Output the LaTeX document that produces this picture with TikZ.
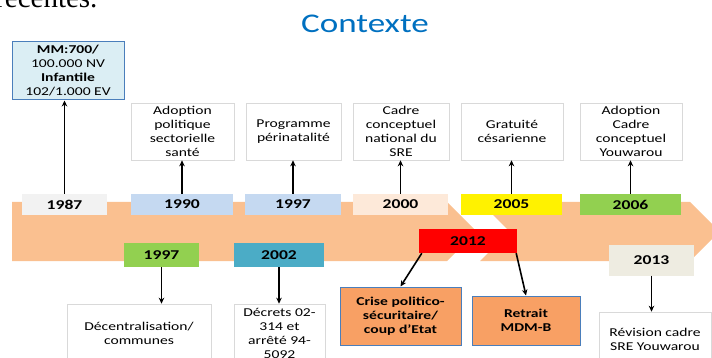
\documentclass[tikz,border=0pt]{standalone}
\usepackage{fontspec}
\setmainfont{Carlito}[FakeStretch=1.3]
\newfontfamily\pageserif{Liberation Serif}
\usepackage{xcolor}
\usepackage{tikz}
\usetikzlibrary{arrows.meta,calc}

\definecolor{bandorange}{RGB}{250,192,144}
\definecolor{titleblue}{RGB}{0,112,192}
\definecolor{boxline}{RGB}{217,217,217}
\definecolor{mmfill}{RGB}{219,238,244}
\definecolor{darkline}{RGB}{74,126,187}
\definecolor{criseorange}{RGB}{248,160,100}
\definecolor{lightgrey}{RGB}{242,242,242}
\definecolor{lightblue}{RGB}{197,217,241}
\definecolor{peach}{RGB}{253,233,217}
\definecolor{limegreen}{RGB}{146,208,80}
\definecolor{tealblue}{RGB}{75,172,198}
\definecolor{paper}{RGB}{238,236,225}

\begin{document}
\begin{tikzpicture}[x=1pt, y=-1pt, >={Stealth[length=6pt,width=5.5pt]},
    event/.style={draw=boxline, fill=white, line width=0.6pt, align=center,
        font=\fontsize{12}{14}\selectfont, inner sep=1pt},
    marked/.style={event, draw=darkline, line width=1pt},
    year/.style={font=\fontsize{13.5}{15}\selectfont\bfseries, inner sep=0pt},
    link/.style={->, line width=1.6pt}]

\useasboundingbox (0,0) rectangle (712,358);
\clip (0,0) rectangle (712,358);

% Page text and title
\node[anchor=base east, font=\pageserif\fontsize{29}{30}\selectfont] (page) at (101,8) {récentes.};
\node[anchor=base, text=titleblue, font=\fontsize{27}{30}\selectfont] (title) at (365,33) {Contexte};

% Timeline band
\fill[bandorange] (12,202) -- (447,202) -- (476.5,231.5) -- (447,261) -- (12,261) -- cycle;
\fill[bandorange] (480,202) -- (690,202) -- (719.5,231.5) -- (690,261) -- (480,261) -- (509.5,231.5) -- cycle;

% Events above the band
\node[marked, fill=mmfill, minimum width=112pt, minimum height=58pt] (mm) at (68,71)
    {\textbf{MM:700/}\\100.000 NV\\\textbf{Infantile}\\102/1.000 EV};
\node[event, minimum width=103pt, minimum height=57pt] (ev1990) at (182.5,131.5) {Adoption\\politique\\sectorielle\\santé};
\node[event, minimum width=95pt, minimum height=57pt] (ev1997) at (293.5,131.5) {Programme\\périnatalité};
\node[event, minimum width=96pt, minimum height=57pt] (ev2000) at (401,131.5) {Cadre\\conceptuel\\national du\\SRE};
\node[event, minimum width=102pt, minimum height=57pt] (ev2005) at (512,131.5) {Gratuité\\césarienne};
\node[event, minimum width=102pt, minimum height=57pt] (ev2006) at (631,131.5) {Adoption\\Cadre\\conceptuel\\Youwarou};

% Years on the band
\node[year, fill=lightgrey, minimum width=85pt, minimum height=21pt] (y1987) at (64.5,204.5) {1987};
\node[year, fill=lightblue, minimum width=102pt, minimum height=21pt] (y1990) at (182,204.5) {1990};
\node[year, fill=lightblue, minimum width=96pt, minimum height=21pt] (y1997a) at (293,204.5) {1997};
\node[year, fill=peach, minimum width=95pt, minimum height=21pt] (y2000) at (400.5,204.5) {2000};
\node[year, fill=yellow, minimum width=101pt, minimum height=21pt] (y2005) at (511.5,204.5) {2005};
\node[year, fill=limegreen, minimum width=101pt, minimum height=21pt] (y2006) at (630.5,204.5) {2006};

\node[year, fill=limegreen, minimum width=75pt, minimum height=24pt] (y1997b) at (161.5,255) {1997};
\node[year, fill=tealblue, minimum width=90pt, minimum height=24pt] (y2002) at (279,255) {2002};
\node[year, fill=red, minimum width=98pt, minimum height=24pt] (y2012) at (468,241) {2012};
\node[year, fill=paper, minimum width=85pt, minimum height=31pt] (y2013) at (651.5,260) {2013};

% Events below the band
\node[event, minimum width=144pt, minimum height=58pt] (decentr) at (139,333) {Décentralisation/\\communes};
\node[event, minimum width=91pt, minimum height=58pt] (decrets) at (279.5,333) {Décrets 02-\\314 et\\arrêté 94-\\5092};
\node[marked, fill=criseorange, font=\fontsize{12}{14}\selectfont\bfseries, minimum width=121pt, minimum height=58pt] (crise) at (400.5,316)
    {Crise politico-\\sécuritaire/\\coup d’Etat};
\node[marked, fill=criseorange, font=\fontsize{12}{14}\selectfont\bfseries, minimum width=108pt, minimum height=49pt] (retrait) at (526,320.5)
    {Retrait\\MDM-B};
\node[event, minimum width=112pt, minimum height=54pt] (revision) at (655,339) {Révision cadre\\SRE Youwarou};

% Arrows up
\draw[link] (y1987.north) -- (y1987.north |- mm.south);
\draw[link] (y1990.north) -- (y1990.north |- ev1990.south);
\draw[link] (y1997a.north) -- (y1997a.north |- ev1997.south);
\draw[link] (y2000.north) -- (y2000.north |- ev2000.south);
\draw[link] (y2005.north) -- (y2005.north |- ev2005.south);
\draw[link] (y2006.north) -- (y2006.north |- ev2006.south);

% Arrows down
\draw[link] (y1997b.south) -- (y1997b.south |- decentr.north);
\draw[link] (y2002.south) -- (y2002.south |- decrets.north);
\draw[link] ($(y2012.south west)+(3,0)$) -- (crise.north);
\draw[link] ($(y2012.south east)+(-1,0)$) -- (retrait.north);
\draw[link] (y2013.south) -- (y2013.south |- revision.north);

\end{tikzpicture}
\end{document}
